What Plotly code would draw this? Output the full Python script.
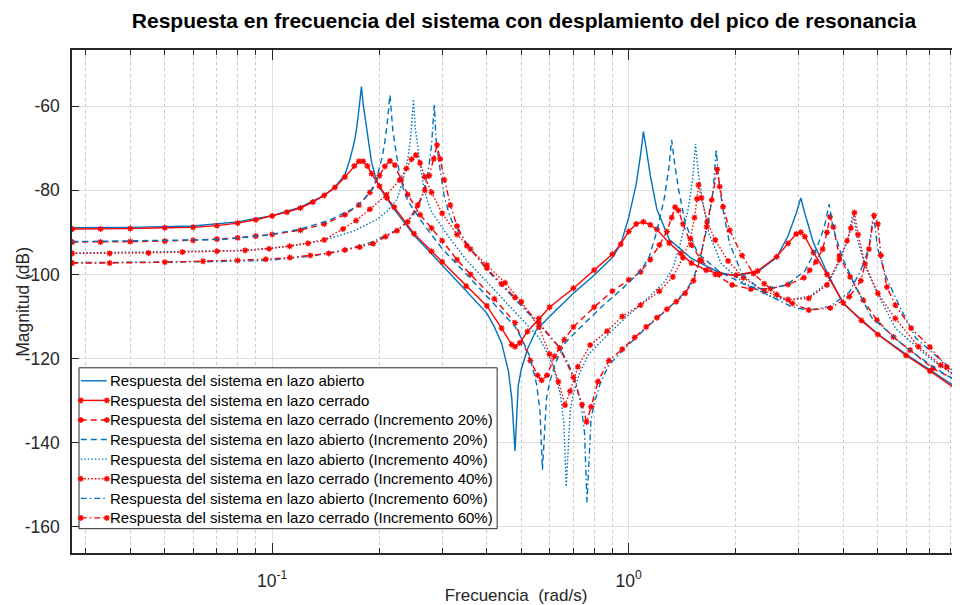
import plotly.graph_objects as go
import math

# ---------------- data ----------------
freq_ol0 = [0.0275, 0.04, 0.06, 0.08, 0.1, 0.12, 0.14, 0.15, 0.16, 0.165, 0.17, 0.1725, 0.175, 0.176, 0.178, 0.18,
            0.182, 0.185, 0.19, 0.195, 0.2, 0.22, 0.25, 0.3, 0.35, 0.4, 0.42, 0.44, 0.46, 0.47, 0.48, 0.49, 0.5,
            0.52, 0.55, 0.6, 0.7, 0.8, 0.9, 0.95, 1.0, 1.05, 1.08, 1.1, 1.12, 1.15, 1.2, 1.3, 1.5, 1.8, 2.0,
            2.3, 2.6, 2.8, 2.95, 3.04, 3.12, 3.3, 3.6, 4.0, 5.0, 6.0, 7.0, 8.5]
mag_ol0 = [-88.9, -88.8, -88.5, -87.5, -86.0, -84.0, -81.2, -79.2, -76.3, -72.8, -68.5, -65.3, -61.0, -59.0, -55.3, -59.5,
           -62.5, -67.0, -73.3, -76.8, -79.3, -84.5, -90.7, -97.8, -103.8, -109.2, -112.5, -116.3, -123.0, -129.5, -142.0, -126.5, -122.5,
           -117.8, -113.3, -110.0, -104.5, -100.2, -96.0, -92.8, -86.5, -78.5, -71.5, -66.0, -70.0, -76.5, -84.5, -91.7, -96.2, -99.6, -100.3,
           -99.4, -96.0, -90.8, -85.5, -81.8, -85.5, -92.5, -99.5, -107.0, -114.2, -119.0, -122.7, -127.5]

freq_cl0 = [0.0275, 0.033, 0.04, 0.05, 0.06, 0.07, 0.08, 0.09, 0.1, 0.11, 0.12, 0.13, 0.14, 0.15, 0.16, 0.17,
            0.175, 0.18, 0.185, 0.19, 0.2, 0.21, 0.22, 0.25, 0.28, 0.3, 0.35, 0.4, 0.44, 0.47, 0.48, 0.495,
            0.52, 0.56, 0.6, 0.7, 0.8, 0.9, 0.95, 1.0, 1.05, 1.1, 1.15, 1.2, 1.3, 1.4, 1.5, 1.65, 1.8, 2.0,
            2.3, 2.6, 2.8, 2.95, 3.04, 3.12, 3.3, 3.6, 4.0, 4.5, 5.0, 6.0, 7.0, 8.5]
mag_cl0 = [-89.2, -89.2, -89.1, -88.9, -88.8, -88.4, -87.8, -87.0, -86.1, -85.2, -84.2, -82.8, -81.2, -79.3, -76.8, -74.2,
           -73.1, -73.1, -74.2, -76.0, -79.0, -81.8, -84.0, -90.3, -94.5, -97.0, -102.8, -107.5, -112.8, -116.7, -117.2, -116.3,
           -113.6, -110.5, -107.8, -103.3, -99.0, -95.2, -92.8, -89.8, -88.0, -87.5, -88.2, -89.3, -92.5, -95.0, -97.3, -99.0, -99.9, -100.2,
           -99.2, -95.8, -92.6, -90.4, -90.0, -91.0, -94.8, -100.0, -106.8, -111.0, -114.3, -119.3, -123.0, -128.0]

freq_cl20 = [0.0275, 0.033, 0.04, 0.05, 0.06, 0.07, 0.08, 0.09, 0.1, 0.12, 0.14, 0.16, 0.175, 0.188, 0.2, 0.207,
             0.214, 0.221, 0.23, 0.24, 0.26, 0.28, 0.3, 0.33, 0.36, 0.42, 0.48, 0.53, 0.555, 0.57, 0.59, 0.62,
             0.66, 0.7, 0.8, 0.9, 1.0, 1.08, 1.15, 1.22, 1.28, 1.32, 1.35, 1.38, 1.42, 1.5, 1.6, 1.75, 1.95,
             2.2, 2.5, 2.8, 3.1, 3.22, 3.35, 3.5, 3.6, 3.67, 3.75, 3.9, 4.18, 4.55, 4.97, 5.53, 6.16, 7.14, 8.5]
mag_cl20 = [-92.3, -92.3, -92.2, -92.1, -91.9, -91.6, -91.3, -90.9, -90.5, -89.5, -88.0, -85.8, -83.5, -80.5, -76.5, -74.3,
            -73.0, -74.0, -77.5, -81.0, -85.8, -89.0, -92.0, -96.5, -100.0, -105.8, -111.5, -120.5, -124.0, -125.2, -124.0, -119.5,
            -115.5, -112.5, -107.8, -104.0, -101.3, -99.4, -96.5, -93.0, -89.8, -86.5, -84.0, -84.8, -88.0, -93.0, -96.7, -100.0, -102.5,
            -103.5, -103.4, -102.4, -100.8, -99.0, -97.0, -94.0, -90.0, -86.3, -88.7, -95.6, -100.6, -106.1, -110.9, -114.9, -118.0, -122.4, -125.6]

freq_ol20 = [0.0275, 0.048, 0.072, 0.096, 0.12, 0.144, 0.168, 0.18, 0.192, 0.198, 0.204, 0.207, 0.21, 0.214, 0.216,
             0.218, 0.222, 0.228, 0.234, 0.24, 0.264, 0.3, 0.36, 0.42, 0.48, 0.504, 0.528, 0.552, 0.564, 0.573,
             0.588, 0.6, 0.624, 0.66, 0.72, 0.84, 0.96, 1.08, 1.14, 1.2, 1.26, 1.296, 1.32, 1.344, 1.38, 1.44,
             1.56, 1.8, 2.16, 2.4, 2.76, 3.12, 3.36, 3.54, 3.65, 3.74, 3.96, 4.32, 4.8, 6.0, 7.2, 8.5]
mag_ol20 = [-92.2, -92.0, -91.7, -90.7, -89.2, -87.2, -84.4, -82.4, -79.5, -76.0, -71.7, -68.5, -64.5, -57.3, -62.7,
            -65.7, -70.2, -76.5, -80.0, -82.5, -87.7, -93.9, -101.0, -107.0, -112.4, -115.7, -119.5, -126.2, -132.7, -146.5,
            -129.7, -125.7, -121.0, -116.5, -113.2, -107.7, -103.4, -99.2, -96.0, -89.7, -81.7, -74.7, -68.0, -73.2, -79.7, -87.7,
            -94.9, -99.4, -102.8, -103.5, -102.6, -99.2, -94.0, -88.7, -83.3, -88.7, -95.7, -102.7, -110.2, -117.4, -122.2, -125.9]

freq_ol40 = [0.0275, 0.056, 0.084, 0.112, 0.14, 0.168, 0.196, 0.21, 0.224, 0.231, 0.238, 0.2415, 0.245, 0.249, 0.252,
             0.255, 0.259, 0.266, 0.273, 0.28, 0.308, 0.35, 0.42, 0.49, 0.56, 0.588, 0.616, 0.644, 0.658, 0.668,
             0.686, 0.7, 0.728, 0.77, 0.84, 0.98, 1.12, 1.26, 1.33, 1.4, 1.47, 1.512, 1.54, 1.568, 1.61, 1.68,
             1.82, 2.1, 2.52, 2.8, 3.22, 3.64, 3.92, 4.13, 4.26, 4.37, 4.62, 5.04, 5.6, 7.0, 8.5]
mag_ol40 = [-94.9, -94.6, -94.3, -93.3, -91.8, -89.8, -87.0, -85.0, -82.1, -78.6, -74.3, -71.1, -66.8, -58.3, -65.3,
            -68.3, -72.8, -79.1, -82.6, -85.1, -90.3, -96.5, -103.6, -109.6, -115.0, -118.3, -122.1, -128.8, -135.3, -150.5,
            -132.3, -128.3, -123.6, -119.1, -115.8, -110.3, -106.0, -101.8, -98.6, -92.3, -84.3, -77.3, -69.0, -75.8, -82.3, -90.3,
            -97.5, -102.0, -105.4, -106.1, -105.2, -101.8, -96.6, -91.3, -85.1, -91.3, -98.3, -105.3, -112.8, -120.0, -125.0]

freq_cl40 = [0.0275, 0.035, 0.045, 0.056, 0.07, 0.084, 0.098, 0.112, 0.126, 0.14, 0.158, 0.172, 0.188, 0.209, 0.228,
             0.238, 0.246, 0.253, 0.26, 0.268, 0.28, 0.3, 0.33, 0.36, 0.4, 0.45, 0.5, 0.56, 0.6, 0.635, 0.663,
             0.685, 0.72, 0.78, 0.87, 0.96, 1.08, 1.22, 1.33, 1.42, 1.49, 1.53, 1.555, 1.57, 1.6, 1.66, 1.75,
             1.9, 2.1, 2.4, 2.8, 3.2, 3.6, 3.9, 4.1, 4.2, 4.3, 4.4, 4.6, 5.0, 5.6, 6.5, 7.5, 8.5]
mag_cl40 = [-95.0, -95.0, -94.9, -94.7, -94.5, -94.3, -93.9, -93.3, -92.6, -91.8, -89.2, -87.2, -84.5, -81.1, -77.5,
            -74.8, -72.6, -71.6, -73.5, -76.8, -80.5, -85.5, -90.5, -94.0, -97.8, -102.0, -106.5, -112.5, -119.0, -125.5, -131.1,
            -127.8, -122.0, -116.8, -113.5, -110.0, -107.3, -104.0, -100.6, -96.0, -91.5, -86.5, -82.0, -78.7, -81.8, -87.5, -91.8,
            -96.8, -100.8, -104.0, -106.0, -105.7, -102.5, -96.5, -92.0, -89.0, -85.3, -90.5, -97.5, -104.5, -110.5, -117.2, -121.6, -124.8]

freq_ol60 = [0.0275, 0.064, 0.096, 0.128, 0.16, 0.192, 0.224, 0.24, 0.256, 0.264, 0.272, 0.276, 0.28, 0.285, 0.288,
             0.291, 0.296, 0.304, 0.312, 0.32, 0.352, 0.4, 0.48, 0.56, 0.64, 0.672, 0.704, 0.736, 0.752, 0.764,
             0.784, 0.8, 0.832, 0.88, 0.96, 1.12, 1.28, 1.44, 1.52, 1.6, 1.68, 1.728, 1.76, 1.792, 1.84, 1.92,
             2.08, 2.4, 2.88, 3.2, 3.68, 4.16, 4.48, 4.72, 4.86, 4.99, 5.28, 5.76, 6.4, 8.0, 8.5]
mag_ol60 = [-97.2, -97.0, -96.7, -95.7, -94.2, -92.2, -89.4, -87.4, -84.5, -81.0, -76.7, -73.5, -69.2, -59.5, -67.7,
            -70.7, -75.2, -81.5, -85.0, -87.5, -92.7, -98.9, -106.0, -111.9, -117.4, -120.7, -124.5, -131.2, -137.7, -154.2,
            -134.7, -130.7, -126.0, -121.5, -118.2, -112.7, -108.4, -104.2, -101.0, -94.7, -86.7, -79.7, -70.2, -78.2, -84.7, -92.7,
            -99.9, -104.4, -107.8, -108.5, -107.6, -104.2, -99.0, -93.7, -85.5, -93.7, -100.7, -107.7, -115.2, -122.4, -123.8]

freq_cl60 = [0.0275, 0.035, 0.05, 0.064, 0.08, 0.096, 0.112, 0.128, 0.144, 0.16, 0.176, 0.192, 0.208, 0.224, 0.24,
             0.256, 0.268, 0.276, 0.284, 0.29, 0.296, 0.304, 0.316, 0.33, 0.352, 0.4, 0.44, 0.48, 0.56, 0.64, 0.7,
             0.74, 0.762, 0.785, 0.82, 0.88, 0.96, 1.04, 1.12, 1.2, 1.28, 1.36, 1.44, 1.52, 1.585, 1.655, 1.71,
             1.772, 1.8, 1.84, 1.92, 2.08, 2.24, 2.4, 2.6, 2.88, 3.2, 3.68, 4.16, 4.48, 4.72, 4.88, 5.0, 5.1,
             5.3, 5.6, 6.2, 7.0, 7.8, 8.5]
mag_cl60 = [-97.3, -97.3, -97.1, -96.9, -96.7, -96.4, -96.0, -95.5, -95.0, -94.2, -93.5, -92.7, -91.0, -89.6, -87.5,
            -83.5, -80.0, -76.5, -72.5, -69.2, -72.5, -77.5, -83.5, -88.5, -93.2, -98.5, -102.3, -105.5, -111.5, -117.5, -124.5,
            -131.0, -135.1, -131.5, -125.5, -120.5, -117.8, -115.0, -112.5, -110.3, -108.3, -106.5, -104.5, -101.5, -96.6, -88.7, -82.3,
            -75.0, -79.1, -83.9, -89.5, -95.5, -99.8, -102.2, -104.8, -106.9, -108.5, -108.0, -105.3, -101.5, -94.0, -86.0, -88.0, -95.5,
            -103.0, -107.3, -112.8, -117.3, -122.0, -124.4]

series_names = [
    "Respuesta del sistema en lazo abierto",
    "Respuesta del sistema en lazo cerrado",
    "Respuesta del sistema en lazo cerrado (Incremento 20%)",
    "Respuesta del sistema en lazo abierto (Incremento 20%)",
    "Respuesta del sistema en lazo abierto (Incremento 40%)",
    "Respuesta del sistema en lazo cerrado (Incremento 40%)",
    "Respuesta del sistema en lazo abierto (Incremento 60%)",
    "Respuesta del sistema en lazo cerrado (Incremento 60%)",
]

ytick_vals = [-160, -140, -120, -100, -80, -60]
ytick_text = ["-160", "-140", "-120", "-100", "-80", "-60"]
xtick_vals = [0.1, 1.0]
xtick_text = ["10<sup>-1</sup>", "10<sup>0</sup>"]
xminor_vals = [m * d for d in (0.01, 0.1, 1.0) for m in range(2, 10)]

x_limits = [0.02745, 8.5]
y_limits = [-166.3, -46.6]

title_text = "Respuesta en frecuencia del sistema con desplamiento del pico de resonancia"
x_title = "Frecuencia\u00a0 (rad/s)"
y_title = "Magnitud (dB)"

# ---------------- figure ----------------
BLUE = "#0072BD"
RED = "#FF0000"
FONT = "Liberation Sans, Arial, Helvetica, sans-serif"
DASHES = {"solid": "solid", "dash": "6px,4px", "dot": "1.5px,2px", "dashdot": "6px,3px,1.5px,3px"}

series = [
    (freq_ol0, mag_ol0, BLUE, "solid", False),
    (freq_cl0, mag_cl0, RED, "solid", True),
    (freq_cl20, mag_cl20, RED, "dash", True),
    (freq_ol20, mag_ol20, BLUE, "dash", False),
    (freq_ol40, mag_ol40, BLUE, "dot", False),
    (freq_cl40, mag_cl40, RED, "dot", True),
    (freq_ol60, mag_ol60, BLUE, "dashdot", False),
    (freq_cl60, mag_cl60, RED, "dashdot", True),
]


def marker_style(col):
    return dict(symbol="asterisk-open", size=5, color=col, line=dict(color=col, width=1.3))


fig = go.Figure()
for (fx, my, col, dash, mk), name in zip(series, series_names):
    kw = dict(x=fx, y=my, name=name, showlegend=False,
              line=dict(color=col, width=1.4, dash=DASHES[dash]))
    if mk:
        kw["mode"] = "lines+markers"
        kw["marker"] = marker_style(col)
    else:
        kw["mode"] = "lines"
    fig.add_trace(go.Scatter(**kw))

# ---- legend box drawn on an overlay axis measured in page pixels ----
PX_LEFT, PX_RIGHT, PX_TOP, PX_BOTTOM = 71.7, 960.0, 50.0, 553.3
LEG_L, LEG_R, LEG_T, LEG_B = 78.7, 497.0, 368.0, 529.0
ENTRY_Y0, ENTRY_DY = 381.0, 19.6
SAMPLE_X = [80.5, 106.5]
TEXT_X = 108.0

fig.add_trace(go.Scatter(
    x=[LEG_L, LEG_R, LEG_R, LEG_L, LEG_L], y=[LEG_T, LEG_T, LEG_B, LEG_B, LEG_T],
    xaxis="x2", yaxis="y2", mode="lines", fill="toself", fillcolor="white",
    line=dict(color="#262626", width=1), showlegend=False, hoverinfo="skip"))

annotations = []
for i, ((fx, my, col, dash, mk), name) in enumerate(zip(series, series_names)):
    yy = ENTRY_Y0 + i * ENTRY_DY
    kw = dict(x=SAMPLE_X, y=[yy, yy], xaxis="x2", yaxis="y2", showlegend=False, hoverinfo="skip",
              line=dict(color=col, width=1.4, dash=DASHES[dash]))
    if mk:
        kw["mode"] = "lines+markers"
        kw["marker"] = marker_style(col)
    else:
        kw["mode"] = "lines"
    fig.add_trace(go.Scatter(**kw))
    annotations.append(dict(x=TEXT_X, y=yy, xref="x2", yref="y2", text=name, showarrow=False,
                            xanchor="left", yanchor="middle",
                            font=dict(family=FONT, size=15, color="#000000")))

# y-axis title placed as rotated text (paper coordinates of the plot area)
annotations.append(dict(x=(22 - PX_LEFT) / (PX_RIGHT - PX_LEFT), y=0.5, xref="paper", yref="paper",
                        text=y_title, textangle=-90, showarrow=False, xanchor="center", yanchor="middle",
                        font=dict(family=FONT, size=17.5, color="#262626")))

axis_common = dict(
    showline=True, linecolor="#262626", linewidth=1.5, mirror="allticks",
    ticks="inside", tickcolor="#262626", zeroline=False, automargin=False,
    gridcolor="#dfdfdf", gridwidth=1,
    tickfont=dict(family=FONT, size=17.5, color="#262626"),
)

# The page body adds an 8 px offset, so the figure is 952 x 597 and margins are shifted.
fig.update_layout(
    width=952, height=597,
    margin=dict(l=64, r=0, t=42, b=52, autoexpand=False),
    paper_bgcolor="white", plot_bgcolor="white",
    font=dict(family=FONT, size=15, color="#000000"),
    title=dict(text="<b>" + title_text + "</b>", x=0.542, xanchor="center", y=0.978, yanchor="middle",
               font=dict(family=FONT, size=21, color="#000000")),
    showlegend=False,
    annotations=annotations,
    xaxis=dict(
        type="log", range=[math.log10(x_limits[0]), math.log10(x_limits[1])],
        tickvals=xtick_vals, ticktext=xtick_text, ticklen=10, ticklabelstandoff=11,
        minor=dict(tickvals=xminor_vals, ticks="inside", ticklen=5, tickcolor="#262626",
                   showgrid=True, gridcolor="#c8c8c8", griddash="dot", gridwidth=1),
        title=dict(text=x_title, font=dict(family=FONT, size=17, color="#262626"), standoff=3),
        **axis_common,
    ),
    yaxis=dict(
        range=y_limits, tickvals=ytick_vals, ticktext=ytick_text, ticklen=7, ticklabelstandoff=7,
        **axis_common,
    ),
    xaxis2=dict(overlaying="x", anchor="y2", range=[PX_LEFT, PX_RIGHT], visible=False, fixedrange=True),
    yaxis2=dict(overlaying="y", anchor="x2", range=[PX_BOTTOM, PX_TOP], visible=False, fixedrange=True),
)

fig.write_html("out.html")
